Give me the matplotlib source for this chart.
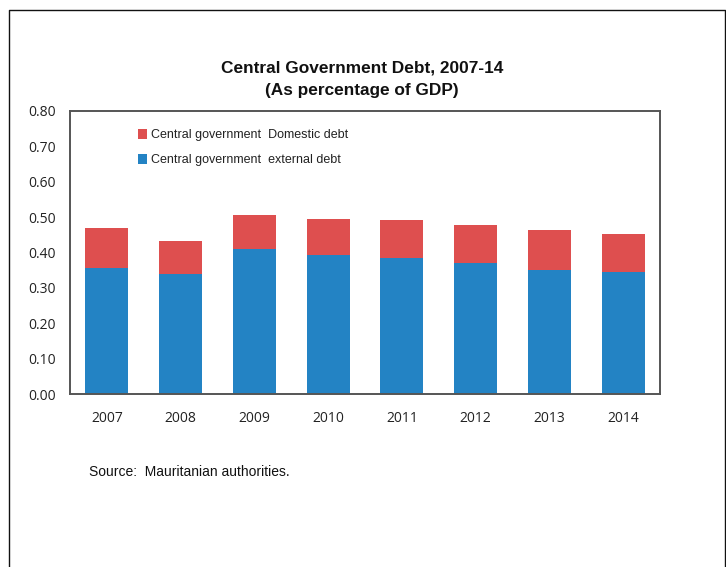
import matplotlib
matplotlib.use("Agg")
import matplotlib.pyplot as plt
from matplotlib.lines import Line2D
from matplotlib.patches import Patch
import numpy as np

years = ["2007", "2008", "2009", "2010", "2011", "2012", "2013", "2014"]
external_debt = [0.357, 0.340, 0.410, 0.393, 0.385, 0.370, 0.351, 0.346]
domestic_debt = [0.112, 0.093, 0.096, 0.102, 0.107, 0.108, 0.113, 0.106]
y_ticks = [0.0, 0.1, 0.2, 0.3, 0.4, 0.5, 0.6, 0.7, 0.8]

BLUE = "#2383C4"
RED = "#DE4F4F"
SANS = "Liberation Sans"

W, H = 726, 567
fig = plt.figure(figsize=(W / 100, H / 100), dpi=100)
fig.patch.set_facecolor("white")

# plot area in pixels: x 70..660, y 111..394
left, right, top, bottom = 70, 660, 111, 394
ax = fig.add_axes([left / W, 1 - bottom / H, (right - left) / W, (bottom - top) / H])

x = np.arange(len(years))
ax.bar(x, external_debt, width=0.58, color=BLUE, zorder=2)
ax.bar(x, domestic_debt, width=0.58, bottom=external_debt, color=RED, zorder=2)

ax.set_xlim(-0.5, len(years) - 0.5)
ax.set_ylim(0, 0.8)
ax.set_yticks(y_ticks)
ax.set_yticklabels([f"{v:.2f}" for v in y_ticks], fontsize=10, family="Open Sans", color="#222222")
ax.set_xticks(x)
ax.set_xticklabels(years, fontsize=10, family="Open Sans", color="#222222")
ax.tick_params(axis="y", length=0, pad=10)
ax.tick_params(axis="x", length=0, pad=12)
for s in ax.spines.values():
    s.set_color("#555555")
    s.set_linewidth(1.4)

handles = [Patch(facecolor=RED), Patch(facecolor=BLUE)]
labels = ["Central government  Domestic debt", "Central government  external debt"]
leg = ax.legend(handles, labels, loc="upper left", bbox_to_anchor=(0.097, 0.975),
                frameon=False, handlelength=0.7, handleheight=0.8, handletextpad=0.3,
                labelspacing=1.0, prop={"family": SANS, "size": 9})
for t in leg.get_texts():
    t.set_color("#222222")

fig.text(362 / W, 1 - 68 / H, "Central Government Debt, 2007-14", ha="center", va="center",
         fontsize=12.4, fontweight="bold", family=SANS, color="#111111")
fig.text(362 / W, 1 - 91 / H, "(As percentage of GDP)", ha="center", va="center",
         fontsize=12.4, fontweight="bold", family=SANS, color="#111111")

fig.text(89 / W, 1 - 472 / H, "Source:  Mauritanian authorities.", ha="left", va="center",
         fontsize=10, family=SANS, color="#111111")

# outer frame (open at the bottom)
fx0, fx1, fy0 = 9 / W, 725 / W, 1 - 10 / H
fig.add_artist(Line2D([fx0, fx0, fx1, fx1], [0, fy0, fy0, 0], transform=fig.transFigure,
                      color="#111111", linewidth=1.0))

fig.savefig("out.png", dpi=100)
